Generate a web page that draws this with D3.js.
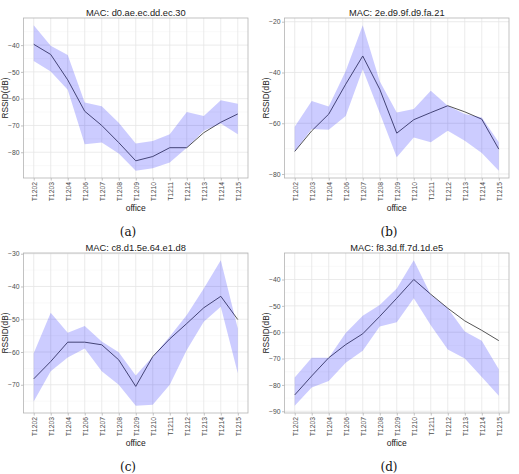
<!DOCTYPE html>
<html>
<head>
<meta charset="utf-8">
<script src="https://cdn.jsdelivr.net/npm/d3@7"></script>
<style>
  body { margin: 0; background: #fff; }
  svg { display: block; font-family: "Liberation Sans", Arial, sans-serif; }
</style>
</head>
<body>
<div id="app"></div>
<script>
`use strict`;

const offices = [`T1202`, `T1203`, `T1204`, `T1206`, `T1207`, `T1208`, `T1209`, `T1210`, `T1211`, `T1212`, `T1213`, `T1214`, `T1215`];

const titles = [`MAC: d0.ae.ec.dd.ec.30`, `MAC: 2e.d9.9f.d9.fa.21`, `MAC: c8.d1.5e.64.e1.d8`, `MAC: f8.3d.ff.7d.1d.e5`];
const captions = [`(a)`, `(b)`, `(c)`, `(d)`];

// mean RSSI per office
const meanA = [-39.7, -43.5, -53.0, -64.7, -70.0, -76.4, -83.2, -81.6, -78.3, -78.3, -72.7, -68.8, -65.7];
const meanB = [-71.1, -63.0, -56.4, -44.6, -33.5, -46.6, -63.9, -58.6, -55.8, -53.1, -55.5, -58.4, -70.2];
const meanC = [-68.2, -62.9, -57.0, -57.0, -57.8, -62.4, -70.5, -61.4, -56.0, -51.3, -46.5, -43.0, -50.1];
const meanD = [-83.8, -76.6, -69.7, -64.7, -60.6, -54.0, -47.1, -40.0, -45.6, -50.9, -55.7, -59.3, -63.2];

// ribbon upper / lower
const upperA = [-32.6, -40.2, -43.7, -61.4, -62.8, -69.0, -76.7, -75.8, -73.3, -65.0, -66.5, -60.6, -61.9];
const lowerA = [-45.9, -49.9, -56.7, -77.0, -76.4, -80.5, -86.9, -86.0, -83.8, -78.3, -72.0, -69.3, -73.3];
const upperB = [-61.4, -51.2, -53.4, -39.4, -21.4, -43.5, -55.8, -54.4, -47.2, -53.1, -56.4, -57.7, -67.5];
const lowerB = [-71.1, -62.3, -62.6, -57.1, -38.7, -56.0, -73.4, -65.6, -67.5, -63.0, -66.9, -71.7, -78.7];
const upperC = [-60.4, -48.0, -54.1, -52.1, -56.8, -60.1, -67.2, -61.4, -55.3, -48.7, -40.6, -32.0, -52.8];
const lowerC = [-75.1, -65.9, -61.7, -58.9, -65.9, -70.0, -76.4, -76.1, -70.0, -59.4, -50.8, -46.2, -66.5];
const upperD = [-77.2, -69.7, -69.7, -60.3, -53.8, -49.7, -43.4, -32.7, -45.8, -50.9, -59.7, -63.2, -74.1];
const lowerD = [-87.9, -81.0, -78.5, -71.6, -67.0, -57.8, -56.2, -47.1, -57.4, -66.6, -70.0, -77.0, -84.1];

const ticksA = [-80, -70, -60, -50, -40];
const ticksB = [-80, -60, -40, -20];
const ticksC = [-70, -60, -50, -40, -30];
const ticksD = [-90, -80, -70, -60, -50, -40];

const Panels = [
  {mean: meanA, upper: upperA, lower: lowerA, ticks: ticksA, ox: 0, oy: 0},
  {mean: meanB, upper: upperB, lower: lowerB, ticks: ticksB, ox: 261, oy: 0},
  {mean: meanC, upper: upperC, lower: lowerC, ticks: ticksC, ox: 0, oy: 235},
  {mean: meanD, upper: upperD, lower: lowerD, ticks: ticksD, ox: 261, oy: 235}
];

const W = 519, H = 474;
const Plot = {left: 23.5, right: 248, top: 18, bottom: 178};

let SVG = d3.select(`#app`).append(`svg`).attr(`width`, W).attr(`height`, H);

Panels.forEach((P, i) => {

  let G = SVG.append(`g`).attr(`transform`, `translate(${P.ox},${P.oy})`);

  // ggplot style: 0.6 unit discrete expansion, 5% continuous expansion
  let x = d3.scalePoint().domain(offices).range([Plot.left, Plot.right]).padding(0.6);

  let lo = d3.min(P.lower.concat(P.mean)), hi = d3.max(P.upper.concat(P.mean));
  let pad = (hi - lo) * 0.05;
  let y = d3.scaleLinear().domain([lo - pad, hi + pad]).range([Plot.bottom, Plot.top]);

  let step = P.ticks[1] - P.ticks[0];
  let minor = P.ticks.map(t => t - step / 2).concat([P.ticks[P.ticks.length - 1] + step / 2])
    .filter(t => t > y.domain()[0] && t < y.domain()[1]);

  G.append(`rect`).attr(`x`, Plot.left).attr(`y`, Plot.top)
    .attr(`width`, Plot.right - Plot.left).attr(`height`, Plot.bottom - Plot.top).attr(`fill`, `#fff`);

  G.selectAll(`.minor`).data(minor).enter().append(`line`)
    .attr(`x1`, Plot.left).attr(`x2`, Plot.right)
    .attr(`y1`, d => y(d)).attr(`y2`, d => y(d))
    .attr(`stroke`, `#f2f2f2`).attr(`stroke-width`, 0.5);

  G.selectAll(`.hgrid`).data(P.ticks).enter().append(`line`)
    .attr(`x1`, Plot.left).attr(`x2`, Plot.right)
    .attr(`y1`, d => y(d)).attr(`y2`, d => y(d))
    .attr(`stroke`, `#e6e6e6`).attr(`stroke-width`, 0.8);

  G.selectAll(`.vgrid`).data(offices).enter().append(`line`)
    .attr(`x1`, d => x(d)).attr(`x2`, d => x(d))
    .attr(`y1`, Plot.top).attr(`y2`, Plot.bottom)
    .attr(`stroke`, `#e6e6e6`).attr(`stroke-width`, 0.8);

  let line = d3.line().x((d, k) => x(offices[k])).y(d => y(d));

  G.append(`path`).datum(P.mean).attr(`d`, line)
    .attr(`fill`, `none`).attr(`stroke`, `#555`).attr(`stroke-width`, 1);

  let area = d3.area().x((d, k) => x(offices[k])).y0((d, k) => y(P.lower[k])).y1(d => y(d));

  G.append(`path`).datum(P.upper).attr(`d`, area)
    .attr(`fill`, `rgb(0,0,255)`).attr(`fill-opacity`, 0.2);

  G.append(`rect`).attr(`x`, Plot.left).attr(`y`, Plot.top)
    .attr(`width`, Plot.right - Plot.left).attr(`height`, Plot.bottom - Plot.top)
    .attr(`fill`, `none`).attr(`stroke`, `#b3b3b3`).attr(`stroke-width`, 0.8);

  let yAxis = G.append(`g`).attr(`transform`, `translate(${Plot.left},0)`)
    .call(d3.axisLeft(y).tickValues(P.ticks).tickSize(2.5).tickPadding(1.5));

  let xAxis = G.append(`g`).attr(`transform`, `translate(0,${Plot.bottom})`)
    .call(d3.axisBottom(x).tickSize(2.5).tickPadding(1.5));

  [xAxis, yAxis].forEach(A => {
    A.select(`.domain`).remove();
    A.selectAll(`.tick line`).attr(`stroke`, `#b3b3b3`).attr(`stroke-width`, 0.8);
    A.selectAll(`.tick text`).attr(`fill`, `#4d4d4d`).style(`font-size`, `6.8px`)
      .style(`font-family`, `"Liberation Sans", Arial, sans-serif`);
  });

  xAxis.selectAll(`.tick text`).attr(`transform`, `rotate(-90)`)
    .attr(`text-anchor`, `end`).attr(`dy`, `0.35em`).attr(`x`, -4).attr(`y`, 0);

  G.append(`text`).attr(`x`, (Plot.left + Plot.right) / 2).attr(`y`, 16)
    .attr(`text-anchor`, `middle`).style(`font-size`, `9.3px`).attr(`fill`, `#1a1a1a`).text(titles[i]);

  G.append(`text`).attr(`x`, (Plot.left + Plot.right) / 2).attr(`y`, 211)
    .attr(`text-anchor`, `middle`).style(`font-size`, `8.5px`).attr(`fill`, `#1a1a1a`).text(`office`);

  G.append(`text`).attr(`transform`, `translate(8,${(Plot.top + Plot.bottom) / 2}) rotate(-90)`)
    .attr(`text-anchor`, `middle`).style(`font-size`, `8.3px`).attr(`fill`, `#1a1a1a`).text(`RSSID(dB)`);

  G.append(`text`).attr(`x`, 128).attr(`y`, 236)
    .attr(`text-anchor`, `middle`).style(`font-size`, `12px`)
    .style(`font-family`, `"DejaVu Serif", "Liberation Serif", serif`).attr(`fill`, `#111`).text(captions[i]);
});
</script>
</body>
</html>
